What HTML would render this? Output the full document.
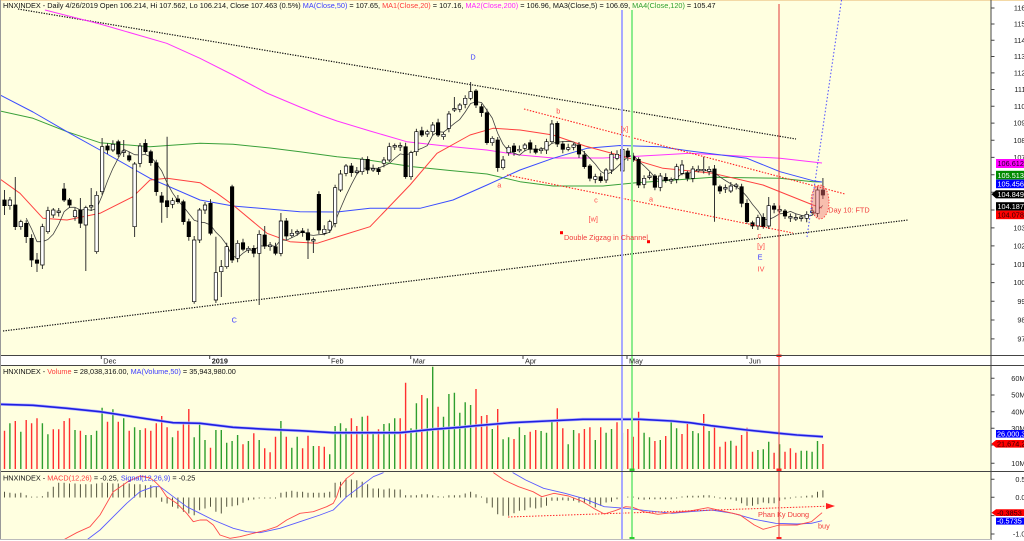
<!DOCTYPE html>
<html><head><meta charset="utf-8">
<style>
html,body{margin:0;padding:0;background:#fff;width:1024px;height:541px;overflow:hidden}
svg{display:block}
text{font-family:"Liberation Sans",Arial,sans-serif;font-size:7.3px}
</style></head><body>
<svg width="1024" height="541" viewBox="0 0 1024 541" xmlns="http://www.w3.org/2000/svg">
<defs>
<clipPath id="cm"><rect x="0" y="0" width="991" height="356"/></clipPath>
<clipPath id="cv"><rect x="0" y="366" width="991" height="106"/></clipPath>
<clipPath id="cd"><rect x="0" y="472.5" width="991" height="66.5"/></clipPath>
</defs>
<rect x="0" y="0" width="1024" height="541" fill="#fff"/>
<rect x="0" y="0" width="991" height="356" fill="#FFFFE0"/>
<rect x="0" y="366" width="991" height="106" fill="#FFFFE0"/>
<rect x="0" y="472" width="991" height="67" fill="#FFFFE0"/>
<rect x="0" y="0" width="1024" height="1" fill="#f3d9a6"/>

<g clip-path="url(#cm)">
<line x1="18" y1="9" x2="796" y2="139" stroke="#111" stroke-width="1.2" stroke-dasharray="1.3,1.3"/>
<line x1="3" y1="331" x2="908" y2="220" stroke="#111" stroke-width="1.2" stroke-dasharray="1.3,1.3"/>
<g fill="none" stroke-width="1" stroke-linejoin="round">
<polyline stroke="#ff33ff" points="45,10 100,24 166.7,43.3 200,58.3 233,75 266.7,93 300,107 320,115 337,121 370,131 406.7,141.7 450,146.5 486.7,150 520,155 553.3,158 603.3,158 660,155 690,153.3 730,155.5 780,158.3 822,163"/>
<polyline stroke="#3aa03a" points="0,111 33,118.3 67,131.7 100,142.7 150,146.7 200,143.3 233,144.3 270,148 300,151.7 337,156.7 363,159.3 413,166.7 450,170.5 487,174 520,181.7 553,186 603,186 637,182.7 675,180 713,177.3 780,178.3 813,181.7 822,182"/>
<polyline stroke="#3a4cff" points="0,95 33,112 67,131.7 100,150 150,178.3 200,200 233,206 300,211.7 337,212 370,208.3 420,208.3 453,200 487,185 520,170 553,158.3 587,148.3 620,145.5 660,146.7 690,151 747,158.3 780,171.7 813,180.7 822,182"/>
<polyline stroke="#ff4040" points="0,179 20,193.3 43,218.3 67,220 100,213.3 133,196.7 150,180 167,178.3 200,182.7 217,193.3 233,205 267,233.3 290,241.7 317,243.3 340,236 370,226.7 410,185 437,153.3 470,135 493,128.3 520,130 553,135 585,146 620,155.5 663,168.3 713,173.3 763,185 813,205 822,208"/>
<polyline stroke="#404040" stroke-width="0.8" points="26.2,218.2 31.6,229 37,241.7 42.4,241.7 47.9,239.5 53.3,234.1 58.7,224.3 64.1,211.7 69.5,207.3 75,207.3 80.4,210 85.8,209.3 91.2,210.4 96.6,208.5 102.1,195.7 107.5,181 112.9,168.4 118.3,158.1 123.7,149.2 129.2,151.9 134.6,154.7 140,155 145.4,154.5 150.8,156.9 156.3,163.2 161.7,170.9 167.1,183 172.5,192.8 177.9,200.6 183.4,206.6 188.8,213.5 194.2,220.2 199.6,222 205,222.7 210.5,225 215.9,232.2 221.3,237.5 226.7,244.9 232.1,255.9 237.6,257.9 243,253.2 248.4,249.5 253.8,250.8 259.2,245.7 264.7,246.2 270.1,245.4 275.5,246.4 280.9,239.9 286.3,240.3 291.8,237.7 297.2,235 302.6,230.9 308,234.7 313.4,235.4 318.9,234.7 324.3,234.3 329.7,232.1 335.1,221.6 340.5,208.5 346,195.7 351.4,184.4 356.8,174.3 362.2,168.6 367.6,167.8 373.1,168.3 378.5,168.1 383.9,165.9 389.3,163.4 394.7,158.5 400.2,153.9 405.6,154.9 411,153.4 416.4,150.4 421.8,148.3 427.3,145.6 432.7,135.2 438.1,131.7 443.5,132.2 448.9,128 454.4,123.4 459.8,119.4 465.2,112 470.6,103.5 476,101.7 481.5,102.5 486.9,110.1 492.3,118.1 497.7,133.3 503.1,144.3 508.6,151.2 514,153 519.4,155.2 524.8,150.7 530.2,148.6 535.7,149.6 541.1,149 546.5,147.5 551.9,143.3 557.3,142.2 562.8,141.6 568.2,141.3 573.6,142 579,148 584.4,152.5 589.9,158.3 595.3,164.1 600.7,171.3 606.1,174.5 611.5,172 617,167.2 622.4,161.7 627.8,156.9 633.2,154.9 638.6,161.1 644.1,165.9 649.5,171.2 654.9,177.3 660.3,180.5 665.7,179.7 671.2,179.9 676.6,178 682,173.6 687.4,174 692.8,171.7 698.3,169.7 703.7,170.3 709.1,171.1 714.5,172.5 719.9,176.9 725.4,180.5 730.8,183.8 736.2,186.9 741.6,190.6 747,196.7 752.5,204.4 757.9,210.7 763.3,219.1 768.7,219.6 774.1,217.1 779.6,213.8 785,213.4 790.4,211.4 795.8,213.8 801.2,215.3 806.7,216.3 812.1,215.3 817.5,210 822.9,205.5"/>
</g>
<path stroke="#333" stroke-width="1" fill="none" d="M4.5 190V215M9.9 197V209.7M15.3 177V230M20.8 219.7V229.7M26.2 220.3V243M31.6 234.3V267M37 253V272M42.4 223.7V269M47.9 206.7V233.7M53.3 208V218M58.7 208V216.5M64.1 183V202M69.5 198V208M75 207.7V220.7M80.4 198V228M85.8 205.7V271M91.2 188V211M96.6 191.3V253.7M102.1 138V194.7M107.5 143V154M112.9 140.3V152M118.3 139.7V157M123.7 140V157M129.2 151.7V162M134.6 162V237M140 143V167.3M145.4 139.3V153.7M150.8 149.7V165.7M156.3 159.7V195.7M161.7 192V222.7M167.1 136.7V218M172.5 197.7V208.3M177.9 195V203.7M183.4 199.7V224.7M188.8 218.7V240.7M194.2 236V303.7M199.6 208V243M205 202V214M210.5 199.3V235.3M215.9 236.7V303M221.3 260V297M226.7 242.7V268.7M232.1 184.7V263M237.6 240.3V262.3M243 238.7V251.3M248.4 246.3V253M253.8 245.3V257.3M259.2 230.3V305M264.7 226V249M270.1 242V250.7M275.5 242.7V255.3M280.9 213V256.3M286.3 218V240M291.8 229.3V237.7M297.2 229.5V235.7M302.6 228V236.7M308 228.7V259M313.4 237.5V253M318.9 191.3V234M324.3 225.3V235.3M329.7 219.7V233M335.1 184.7V227.3M340.5 170V192M346 164V176.3M351.4 163V176.7M356.8 167V174.5M362.2 157.3V174.7M367.6 156.3V174M373.1 164.5V172M378.5 167V174.7M383.9 157V167.3M389.3 142.7V162M394.7 143.5V150M400.2 142.5V151M405.6 142.7V178.7M411 150.7V179.7M416.4 128.7V155.7M421.8 126.7V137M427.3 129.7V137M432.7 122V135.7M438.1 118.7V137M443.5 132.3V139.7M448.9 111V132.3M454.4 97V112M459.8 103V112.3M465.2 95.3V108.3M470.6 82V100.3M476 89V108M481.5 103.7V116.7M486.9 108.7V144.7M492.3 136.3V145.7M497.7 137V171.7M503.1 156V169.7M508.6 145.3V155.7M514 143V155.7M519.4 145.5V152.5M524.8 143V151.3M530.2 139.7V153.3M535.7 145V154.3M541.1 147V153.7M546.5 138.7V154M551.9 120V143.7M557.3 121.3V147M562.8 141V153.3M568.2 143.7V151.3M573.6 143V150.3M579 142V158M584.4 151V168.7M589.9 164V181.3M595.3 173.7V183.3M600.7 172.7V182.7M606.1 168V183M611.5 151.3V174M617 150.3V160.3M622.4 136.7V174M627.8 148V160.7M633.2 152.7V162M638.6 157.3V188M644.1 175.3V188.3M649.5 172V179.5M654.9 174V190.3M660.3 173V191.3M665.7 173.3V182.7M671.2 177.5V184M676.6 163.7V183.3M682 160V175.3M687.4 170.7V181.3M692.8 166V182.3M698.3 165.5V172.5M703.7 156.7V173.5M709.1 166.3V175.3M714.5 165V221.7M719.9 184.7V194M725.4 184.5V193M730.8 182V193M736.2 183V189.5M741.6 183.7V207.3M747 199.3V223.7M752.5 220.7V229M757.9 214.7V230M763.3 213.3V228.7M768.7 197V229M774.1 203V213.3M779.6 205.5V213M785 209V219M790.4 213.5V222M795.8 213.5V221M801.2 215V221.5M806.7 211.3V222.3M812.1 207V214.5M817.5 187V217M822.9 178V199"/>
<path fill="#000" stroke="#000" stroke-width="0.7" d="M2.8 200h3.4V205.7h-3.4zM13.6 205h3.4V226.7h-3.4zM24.5 223.3h3.4V236.7h-3.4zM29.9 238.3h3.4V260h-3.4zM35.3 260h3.4V263.3h-3.4zM62.4 189h3.4V200h-3.4zM67.8 200h3.4V205h-3.4zM78.7 210h3.4V223.3h-3.4zM105.8 146h3.4V150h-3.4zM116.6 141.7h3.4V154h-3.4zM127.5 155.7h3.4V160h-3.4zM143.7 143.3h3.4V151.7h-3.4zM149.1 151.7h3.4V162.7h-3.4zM154.6 162.7h3.4V191.7h-3.4zM160 196h3.4V202.3h-3.4zM165.4 200.7h3.4V206.7h-3.4zM176.2 199h3.4V201.7h-3.4zM181.7 201.7h3.4V221.7h-3.4zM187.1 221.7h3.4V236.7h-3.4zM208.8 203.3h3.4V233.3h-3.4zM230.4 186.7h3.4V260h-3.4zM241.3 242.7h3.4V249.3h-3.4zM252.1 248.3h3.4V253.3h-3.4zM263 235h3.4V246h-3.4zM273.8 246.7h3.4V253.3h-3.4zM284.6 221h3.4V236h-3.4zM300.9 231h3.4V232.7h-3.4zM306.3 232.7h3.4V240h-3.4zM317.2 194.3h3.4V230h-3.4zM349.7 166h3.4V172.7h-3.4zM365.9 159.3h3.4V170h-3.4zM376.8 169h3.4V171.7h-3.4zM403.9 146.7h3.4V176.7h-3.4zM420.1 130.7h3.4V135h-3.4zM436.4 122.7h3.4V135h-3.4zM474.3 91h3.4V105h-3.4zM479.8 106.7h3.4V112.7h-3.4zM485.2 112.7h3.4V142.7h-3.4zM496 140h3.4V167.7h-3.4zM512.3 146h3.4V151.7h-3.4zM528.5 142.7h3.4V149.3h-3.4zM534 149h3.4V152.3h-3.4zM555.6 123.3h3.4V144h-3.4zM561.1 144h3.4V149.3h-3.4zM577.3 145h3.4V154h-3.4zM582.7 155h3.4V166.7h-3.4zM588.2 166h3.4V178.3h-3.4zM599 176.7h3.4V180.7h-3.4zM626.1 151h3.4V156.7h-3.4zM631.5 156.7h3.4V160h-3.4zM636.9 159.3h3.4V185h-3.4zM653.2 176h3.4V187.3h-3.4zM664 177.3h3.4V180.7h-3.4zM685.7 172.7h3.4V178.3h-3.4zM712.8 169h3.4V185h-3.4zM718.2 186.7h3.4V191h-3.4zM739.9 186.7h3.4V203.3h-3.4zM745.3 203.3h3.4V221.7h-3.4zM750.8 222.7h3.4V226h-3.4zM761.6 217.3h3.4V226.7h-3.4zM772.4 206h3.4V209.3h-3.4zM783.3 211h3.4V216h-3.4zM821.2 190h3.4V195h-3.4z"/>
<path fill="#fff" stroke="#000" stroke-width="0.7" d="M8.2 200h3.4V205.7h-3.4zM19.1 221.7h3.4V226.7h-3.4zM40.7 226.7h3.4V265h-3.4zM46.2 210.7h3.4V231.7h-3.4zM51.6 210h3.4V215h-3.4zM57 211h3.4V212.5h-3.4zM73.3 210.7h3.4V216.7h-3.4zM84.1 207.7h3.4V225h-3.4zM89.5 205.5h3.4V207h-3.4zM94.9 195.3h3.4V251.7h-3.4zM100.4 146.7h3.4V191.7h-3.4zM111.2 144.3h3.4V150h-3.4zM122 151h3.4V152.5h-3.4zM132.9 164h3.4V226.7h-3.4zM138.3 146h3.4V163.3h-3.4zM170.8 200.7h3.4V204.3h-3.4zM192.5 240h3.4V301.7h-3.4zM197.9 210h3.4V240h-3.4zM203.3 205h3.4V210h-3.4zM214.2 272.7h3.4V300h-3.4zM219.6 266.7h3.4V271.7h-3.4zM225 246.7h3.4V266.7h-3.4zM235.9 243.3h3.4V258.3h-3.4zM246.7 248.3h3.4V250h-3.4zM257.5 234.3h3.4V253.3h-3.4zM268.4 245h3.4V246.7h-3.4zM279.2 221h3.4V253.3h-3.4zM290.1 233.3h3.4V235.7h-3.4zM295.5 231.5h3.4V233h-3.4zM311.7 239.5h3.4V241h-3.4zM322.6 229.3h3.4V233.3h-3.4zM328 221.7h3.4V230h-3.4zM333.4 187.7h3.4V223.3h-3.4zM338.8 174h3.4V190h-3.4zM344.3 166h3.4V173.3h-3.4zM355.1 171h3.4V172.5h-3.4zM360.5 159.3h3.4V171.7h-3.4zM371.4 168.5h3.4V170h-3.4zM382.2 160h3.4V163.3h-3.4zM387.6 146.7h3.4V160h-3.4zM393 145.5h3.4V147h-3.4zM398.5 145.5h3.4V147h-3.4zM409.3 152.7h3.4V176.7h-3.4zM414.7 131.7h3.4V151.7h-3.4zM425.6 131.7h3.4V134h-3.4zM431 125h3.4V131.7h-3.4zM441.8 134.3h3.4V136.7h-3.4zM447.2 114h3.4V128.3h-3.4zM452.7 108.5h3.4V110h-3.4zM458.1 105h3.4V109.3h-3.4zM463.5 98.3h3.4V104.3h-3.4zM468.9 91.7h3.4V98.3h-3.4zM490.6 138.3h3.4V142.7h-3.4zM501.4 160h3.4V167.7h-3.4zM506.9 147.3h3.4V152.7h-3.4zM517.7 149.3h3.4V150.8h-3.4zM523.1 145h3.4V148.3h-3.4zM539.4 149h3.4V150.7h-3.4zM544.8 141.7h3.4V150h-3.4zM550.2 124h3.4V141.7h-3.4zM566.5 147.7h3.4V149.3h-3.4zM571.9 145h3.4V147.3h-3.4zM593.6 176.7h3.4V179.3h-3.4zM604.4 170h3.4V180h-3.4zM609.8 154.3h3.4V170h-3.4zM615.3 154.3h3.4V158.3h-3.4zM620.7 149.3h3.4V171h-3.4zM642.4 178.3h3.4V184.3h-3.4zM647.8 176h3.4V177.5h-3.4zM658.6 176h3.4V187.3h-3.4zM669.5 179.5h3.4V181h-3.4zM674.9 166.7h3.4V179.3h-3.4zM680.3 165h3.4V173.3h-3.4zM691.1 169h3.4V178.3h-3.4zM696.6 169.3h3.4V170.8h-3.4zM702 169.3h3.4V170.8h-3.4zM707.4 169.3h3.4V171.3h-3.4zM723.7 187.5h3.4V189h-3.4zM729.1 186h3.4V191h-3.4zM734.5 185h3.4V186.5h-3.4zM756.2 217.7h3.4V226h-3.4zM767 205.7h3.4V226h-3.4zM777.9 209.5h3.4V211h-3.4zM788.7 216.5h3.4V218h-3.4zM794.1 217.5h3.4V219h-3.4zM799.5 217h3.4V218.5h-3.4zM805 214.3h3.4V218.3h-3.4zM810.4 211h3.4V212.5h-3.4zM815.8 190h3.4V213.3h-3.4z"/>
<line x1="524" y1="109" x2="845" y2="194" stroke="#ff2020" stroke-width="1.1" stroke-dasharray="1.5,1.5"/>
<line x1="507" y1="175" x2="793" y2="233" stroke="#ff2020" stroke-width="1.1" stroke-dasharray="1.5,1.5"/>
<line x1="807" y1="237" x2="841.5" y2="0" stroke="#4a4aff" stroke-width="1" stroke-dasharray="1.5,2"/>
<ellipse cx="820" cy="202" rx="9" ry="17" fill="rgba(240,110,110,0.45)" stroke="#ff3030" stroke-width="0.8" stroke-dasharray="1.5,1.5"/>
</g>

<g clip-path="url(#cv)" stroke-width="1.4" fill="none">
<path stroke="#ff3030" d="M4.5 469V430.7M15.3 469V421M26.2 469V420M31.6 469V423.3M37 469V418.3M53.3 469V429.3M58.7 469V429.3M64.1 469V421M69.5 469V418.3M80.4 469V430.7M107.5 469V421.7M118.3 469V421.7M129.2 469V430.7M145.4 469V428.3M150.8 469V430.7M156.3 469V423.3M161.7 469V416M167.1 469V427.3M177.9 469V430.7M183.4 469V421.7M188.8 469V409M210.5 469V447.7M243 469V444.3M253.8 469V433.3M264.7 469V448.3M270.1 469V452.3M275.5 469V436.7M286.3 469V436.7M302.6 469V448.3M308 469V435.7M318.9 469V446M324.3 469V446.7M351.4 469V418.3M356.8 469V426M367.6 469V415.7M378.5 469V429.3M400.2 469V418.3M405.6 469V382.7M421.8 469V395M438.1 469V406.7M476 469V389M481.5 469V416M486.9 469V415M497.7 469V409M514 469V439M530.2 469V431.7M535.7 469V430M557.3 469V408.3M562.8 469V428.3M579 469V433.3M584.4 469V429M589.9 469V427.3M600.7 469V427.3M617 469V422.3M627.8 469V429M633.2 469V436.7M638.6 469V411.7M654.9 469V441M665.7 469V436M682 469V434M687.4 469V424M703.7 469V414M714.5 469V426M719.9 469V446.7M725.4 469V441.7M736.2 469V445.7M741.6 469V435M747 469V427.7M752.5 469V451.7M774.1 469V452.7M785 469V451.7M790.4 469V448.3M795.8 469V452.7M822.9 469V444"/>
<path stroke="#2e9e2e" d="M9.9 469V423.3M20.8 469V431.7M42.4 469V423.3M47.9 469V434.3M75 469V430M85.8 469V435M91.2 469V435M96.6 469V430.7M102.1 469V407.7M112.9 469V409.3M123.7 469V418.3M134.6 469V427.3M140 469V430M172.5 469V437.3M194.2 469V437.3M199.6 469V424.3M205 469V440M215.9 469V430M221.3 469V430M226.7 469V442.7M232.1 469V441M237.6 469V435M248.4 469V441M259.2 469V440M280.9 469V421M291.8 469V447.7M297.2 469V436.7M313.4 469V446M329.7 469V454.3M335.1 469V426M340.5 469V423.3M346 469V428.3M362.2 469V416.7M373.1 469V431.7M383.9 469V424M389.3 469V423.3M394.7 469V418.3M411 469V428.3M416.4 469V403.3M427.3 469V398.3M432.7 469V366.7M443.5 469V416.7M448.9 469V394M454.4 469V392.7M459.8 469V412.7M465.2 469V402.3M470.6 469V405M492.3 469V429M503.1 469V439.3M508.6 469V437.3M519.4 469V427.3M524.8 469V435M541.1 469V431M546.5 469V432.7M551.9 469V420M568.2 469V444.3M573.6 469V430M595.3 469V440M606.1 469V432.7M611.5 469V429M622.4 469V432.7M644.1 469V432.7M649.5 469V437.3M660.3 469V440M671.2 469V421.7M676.6 469V428.3M692.8 469V431M698.3 469V433.3M709.1 469V431M730.8 469V440.7M757.9 469V450M763.3 469V449.3M768.7 469V441.7M779.6 469V444.3M801.2 469V450.7M806.7 469V450.7M812.1 469V451.7M817.5 469V441"/>
<polyline stroke="#b8b8ff" stroke-width="3" stroke-linejoin="round" points="0,404.3 33,405.3 67,408.3 100,411.7 150,419.3 173,422.7 200,423.3 233,427.3 267,429.3 300,430.7 333,432.7 400,432.7 433,429.3 460,427.3 476,425.7 511,422.7 547,421 583,419.3 640,419.3 672,421 690,422.7 711,425.7 747,430 779,433.3 797,435 823,436.7"/>
<polyline stroke="#1f1fe0" stroke-width="1.6" stroke-linejoin="round" points="0,404.3 33,405.3 67,408.3 100,411.7 150,419.3 173,422.7 200,423.3 233,427.3 267,429.3 300,430.7 333,432.7 400,432.7 433,429.3 460,427.3 476,425.7 511,422.7 547,421 583,419.3 640,419.3 672,421 690,422.7 711,425.7 747,430 779,433.3 797,435 823,436.7"/>
</g>

<g clip-path="url(#cd)" fill="none">
<path stroke="#55553f" stroke-width="1" d="M4.5 497.5v-5.7M9.9 497.5v-4.7M15.3 497.5v-4M20.8 497.5v-4.7M26.2 497.5v-2.3M31.6 497.5v-0.9M37 497.5v-0.9M42.4 497.5v-1.3M47.9 497.5v-5.7M53.3 497.5v-10.7M58.7 497.5v-14.7M64.1 497.5v-14.7M69.5 497.5v-14M75 497.5v-14M80.4 497.5v-13.3M85.8 497.5v-13.3M91.2 497.5v-13.3M96.6 497.5v-14M102.1 497.5v-14.7M107.5 497.5v-14.7M112.9 497.5v-14M118.3 497.5v-14M123.7 497.5v-14M129.2 497.5v-14M134.6 497.5v-13.3M140 497.5v-13.3M145.4 497.5v-12.3M150.8 497.5v-12.3M156.3 497.5v-10.7M161.7 497.5v4.3M167.1 497.5v6M172.5 497.5v9.3M177.9 497.5v11M183.4 497.5v14.3M188.8 497.5v16M194.2 497.5v17.7M199.6 497.5v12.7M205 497.5v11M210.5 497.5v9.3M215.9 497.5v14.3M221.3 497.5v16M226.7 497.5v9.3M232.1 497.5v8.7M237.6 497.5v7.7M243 497.5v5.3M248.4 497.5v2.7M253.8 497.5v2M259.2 497.5v1M264.7 497.5v1M270.1 497.5v1M275.5 497.5v1M280.9 497.5v-4.7M286.3 497.5v-5.7M291.8 497.5v-6.7M297.2 497.5v-5.7M302.6 497.5v-5.7M308 497.5v-4.7M313.4 497.5v-4.7M318.9 497.5v-4.7M324.3 497.5v-4.7M329.7 497.5v-5.7M335.1 497.5v-14.7M340.5 497.5v-15.7M346 497.5v-19M351.4 497.5v-18M356.8 497.5v-17.3M362.2 497.5v-15.7M367.6 497.5v-13.3M373.1 497.5v-9M378.5 497.5v-9M383.9 497.5v-8M389.3 497.5v-9M394.7 497.5v-8M400.2 497.5v-8M405.6 497.5v-2.3M411 497.5v-2.3M416.4 497.5v-2.3M421.8 497.5v-3.3M427.3 497.5v-3.3M432.7 497.5v-2.3M438.1 497.5v-1.3M443.5 497.5v-0.9M448.9 497.5v-2.3M454.4 497.5v-2.3M459.8 497.5v-2.3M465.2 497.5v-4M470.6 497.5v-5.7M476 497.5v-3.3M481.5 497.5v-1M486.9 497.5v5.7M492.3 497.5v10M497.7 497.5v16.7M503.1 497.5v18.3M508.6 497.5v18.3M514 497.5v15.7M519.4 497.5v13.3M524.8 497.5v12.7M530.2 497.5v10M535.7 497.5v11M541.1 497.5v10M546.5 497.5v8.3M551.9 497.5v3.3M557.3 497.5v3.3M562.8 497.5v2.7M568.2 497.5v3.3M573.6 497.5v3.3M579 497.5v5M584.4 497.5v5.7M589.9 497.5v6.7M595.3 497.5v10M600.7 497.5v8.3M606.1 497.5v5M611.5 497.5v4.3M617 497.5v1.7M622.4 497.5v0.9M627.8 497.5v-0.9M633.2 497.5v-0.9M638.6 497.5v1.7M644.1 497.5v2.3M649.5 497.5v1.7M654.9 497.5v1.7M660.3 497.5v1.7M665.7 497.5v1.7M671.2 497.5v1.7M676.6 497.5v1M682 497.5v-1M687.4 497.5v-1.7M692.8 497.5v-1.7M698.3 497.5v-1.7M703.7 497.5v-2.3M709.1 497.5v-2.3M714.5 497.5v-1M719.9 497.5v1M725.4 497.5v1.7M730.8 497.5v1.7M736.2 497.5v3.3M741.6 497.5v5.7M747 497.5v8.3M752.5 497.5v8.3M757.9 497.5v6.7M763.3 497.5v5M768.7 497.5v5.7M774.1 497.5v5.7M779.6 497.5v3.3M785 497.5v1.7M790.4 497.5v1M795.8 497.5v-0.9M801.2 497.5v-1M806.7 497.5v-1.7M812.1 497.5v-2.3M817.5 497.5v-5.7M822.9 497.5v-7.3"/>
<g stroke-width="0.9" stroke-linejoin="round">
<polyline stroke="#5a5aff" points="84,545 86.7,540 100,530 113.3,516.7 126.7,503.3 140,491.7 153.3,486.7 160,486.7 173.3,496.7 186.7,506.7 200,513.3 213.3,520 233.3,528.3 246.7,531.7 260,532.7 280,528.3 300,521.7 320,515 333.3,510 346.7,496.7 360,486.7 373.3,476.7 383.3,472.7 392,466"/>
<polyline stroke="#5a5aff" points="506,466 513,472.7 525.7,480 543.6,488.3 565,493.3 582.9,498.3 604.3,506.7 625.7,508.3 647,510.7 672,513.3 690,511.7 711.4,510 733,513.3 754.3,519.3 775.7,523.3 797,524 811.4,523.3 822.1,520.7"/>
<polyline stroke="#ff4a4a" points="60,545 63.3,540 76.7,532.7 90,526.7 100,515 113.3,491.7 127.7,481.7 140,476 150,478 155,481.7 160,486.7 166.7,496.7 176.7,503.3 186.7,513.3 193.3,521.7 200,520 206.7,520 213.3,525 220,535 230,538.3 240,536.7 253.3,533.3 266.7,530 276.7,526.7 286.7,520 300,513.3 313.3,511.7 326.7,506.7 333.3,503.3 336.7,496.7 340,486.7 346.7,478.3 353.3,473.3 360,466"/>
<polyline stroke="#ff4a4a" points="488,465 493.6,472.7 504,480 518.6,486.7 533,491.7 541.8,496.7 554,493.3 568.6,496 582.9,501.7 593.6,508.3 604.3,514 615,510.7 625.7,506.7 632.9,507.3 643.6,511.7 657.9,514.3 672,512.7 690,511 707.9,507.7 725.7,511.7 740,515 754.3,525 763.2,529.3 779.3,525 797,525 811.4,521.7 822.1,512.7"/>
</g>
<line x1="508" y1="517" x2="827" y2="506.2" stroke="#ff2a2a" stroke-width="1" stroke-dasharray="1.5,1.5"/>
<polygon points="826,503 835,506 826,509.2" fill="#ff2020"/>
</g>

<!-- vertical cursor lines -->
<line x1="622" y1="10" x2="622" y2="541" stroke="#a8a8ff" stroke-width="2"/>
<line x1="632" y1="10" x2="632" y2="541" stroke="#8cec8c" stroke-width="2"/>
<line x1="779" y1="4" x2="779" y2="541" stroke="#e23a3a" stroke-width="1"/>
<rect x="629.5" y="468.5" width="5" height="2.5" fill="#2ecc2e"/>
<rect x="629.5" y="537" width="5" height="2.5" fill="#2ecc2e"/>
<rect x="776.5" y="354.5" width="5" height="2.5" fill="#ff2020"/>
<rect x="776.5" y="468.5" width="5" height="2.5" fill="#ff2020"/>
<rect x="776.5" y="537" width="5" height="2.5" fill="#ff2020"/>

<!-- panel frame -->
<g stroke="#444" stroke-width="1" fill="none">
<line x1="0" y1="355.5" x2="1024" y2="355.5"/>
<line x1="0" y1="365.5" x2="1024" y2="365.5"/>
<line x1="0" y1="471.5" x2="1024" y2="471.5"/>
<line x1="991" y1="0" x2="991" y2="541"/>
<line x1="0.5" y1="0" x2="0.5" y2="541" stroke="#999"/>
</g>
<line x1="0" y1="539.5" x2="991" y2="539.5" stroke="#bbb"/>
<rect x="0" y="540" width="1024" height="1" fill="#fff"/>

<!-- titles -->
<text x="3" y="8" fill="#111">HNXINDEX - Daily 4/26/2019 Open 106.214, Hi 107.562, Lo 106.214, Close 107.463 (0.5%) <tspan fill="#3b3bff">MA(Close,50)</tspan> = 107.65, <tspan fill="#ff3b3b">MA1(Close,20)</tspan> = 107.16, <tspan fill="#ff22ff">MA2(Close,200)</tspan> = 106.96, MA3(Close,5) = 106.69, <tspan fill="#2ea02e">MA4(Close,120)</tspan> = 105.47</text>
<text x="3" y="374" fill="#111">HNXINDEX - <tspan fill="#ff3b3b">Volume</tspan> = 28,038,316.00, <tspan fill="#3b3bff">MA(Volume,50)</tspan> = 35,943,980.00</text>
<text x="3" y="480.5" fill="#111">HNXINDEX - <tspan fill="#ff3b3b">MACD(12,26)</tspan> = -0.25, <tspan fill="#3b3bff">Signal(12,26,9)</tspan> = -0.25</text>

<!-- date axis -->
<g fill="#222">
<text x="103.3" y="363.5">Dec</text>
<text x="211.7" y="363.5" font-weight="bold">2019</text>
<text x="331" y="363.5">Feb</text>
<text x="412.7" y="363.5">Mar</text>
<text x="525" y="363.5">Apr</text>
<text x="629" y="363.5">May</text>
<text x="749" y="363.5">Jun</text>
</g>
<path stroke="#444" stroke-width="1" d="M101.3 356V359M209.7 356V359M329 356V359M410.7 356V359M523 356V359M627 356V359M747 356V359"/>

<!-- annotations -->
<g text-anchor="middle">
<text x="473" y="59.6" fill="#3b3bff">D</text>
<text x="234.3" y="322.6" fill="#3b3bff">C</text>
<text x="499.3" y="187.6" fill="#ff4c4c">a</text>
<text x="558.3" y="113.6" fill="#ff4c4c">b</text>
<text x="596" y="202.3" fill="#ff4c4c">c</text>
<text x="624.3" y="131.6" fill="#ff4c4c">[x]</text>
<text x="593.3" y="221.6" fill="#ff4c4c">[w]</text>
<text x="651" y="201.6" fill="#ff4c4c">a</text>
<text x="759.3" y="238" fill="#ff4c4c">c</text>
<text x="761" y="248.6" fill="#ff4c4c">[y]</text>
<text x="760" y="259.3" fill="#3b3bff">E</text>
<text x="761" y="271.6" fill="#ff4c4c">IV</text>
</g>
<text x="564" y="240" fill="#f03c3c">Double Zigzag in Channel</text>
<rect x="560" y="231.2" width="3" height="3" fill="#f00"/>
<rect x="647" y="240.2" width="3" height="3" fill="#f00"/>
<text x="828.3" y="212.7" fill="#f03c3c">Day 10: FTD</text>
<text x="758" y="517" fill="#f03c3c">Phan Ky Duong</text>
<text x="818" y="528.3" fill="#f03c3c">buy</text>

<!-- main axis -->
<path stroke="#444" stroke-width="1" d="M991 8h3.5M991 24h3.5M991 40.2h3.5M991 56.5h3.5M991 72.9h3.5M991 89.5h3.5M991 106.3h3.5M991 123.1h3.5M991 140.2h3.5M991 157.4h3.5M991 174.8h3.5M991 192.3h3.5M991 210h3.5M991 227.9h3.5M991 245.9h3.5M991 264.2h3.5M991 282.6h3.5M991 301.2h3.5M991 320h3.5M991 338.9h3.5"/>
<g fill="#222" text-anchor="end">
<text x="1025.5" y="10.6">116</text>
<text x="1025.5" y="26.6">115</text>
<text x="1025.5" y="42.8">114</text>
<text x="1025.5" y="59.1">113</text>
<text x="1025.5" y="75.5">112</text>
<text x="1025.5" y="92.1">111</text>
<text x="1025.5" y="108.9">110</text>
<text x="1025.5" y="125.7">109</text>
<text x="1025.5" y="142.8">108</text>
<text x="1025.5" y="160">107</text>
<text x="1025.5" y="230.5">103</text>
<text x="1025.5" y="248.5">102</text>
<text x="1025.5" y="266.8">101</text>
<text x="1025.5" y="285.2">100</text>
<text x="1025.5" y="303.8">99</text>
<text x="1025.5" y="322.6">98</text>
<text x="1025.5" y="341.5">97</text>
</g>
<rect x="996" y="159" width="30" height="9" fill="#ff00ff"/>
<text x="997.5" y="166.2" fill="#200020">106.612</text>
<rect x="996" y="170.8" width="30" height="8.6" fill="#008a00"/>
<text x="997.5" y="177.8" fill="#fff">105.513</text>
<rect x="996" y="179.6" width="30" height="8.6" fill="#0000ff"/>
<text x="997.5" y="186.6" fill="#fff">105.456</text>
<polygon points="991.5,194.3 996,190.2 1026,190.2 1026,198.4 996,198.4" fill="#000"/>
<text x="997.5" y="197.1" fill="#fff">104.849</text>
<rect x="996" y="202.2" width="30" height="8.4" fill="#000"/>
<text x="997.5" y="209" fill="#fff">104.187</text>
<rect x="996" y="210.6" width="30" height="8.6" fill="#ff0000"/>
<text x="997.5" y="217.5" fill="#300">104.078</text>

<!-- volume axis -->
<g fill="#222" text-anchor="end">
<text x="1025.5" y="380.9">60M</text>
<text x="1025.5" y="397.6">50M</text>
<text x="1025.5" y="414.3">40M</text>
<text x="1025.5" y="430.9">30M</text>
<text x="1025.5" y="465.9">10M</text>
</g>
<path stroke="#444" d="M991 378.3h3.5M991 395h3.5M991 411.7h3.5M991 428.3h3.5M991 445h3.5M991 463.3h3.5"/>
<rect x="996" y="430" width="30" height="7.6" fill="#0000ff"/>
<text x="997" y="436.5" fill="#fff">26,000,3</text>
<polygon points="991.5,443.8 996,440 1026,440 1026,447.6 996,447.6" fill="#ff0000"/>
<text x="997" y="446.4" fill="#300">21,674,2</text>

<!-- macd axis -->
<g fill="#222" text-anchor="end">
<text x="1025.5" y="481.9">0.5</text>
<text x="1025.5" y="499.9">0.0</text>
<text x="1025.5" y="536.6">-1.0</text>
</g>
<path stroke="#444" d="M991 479.3h3.5M991 497.3h3.5M991 515.6h3.5M991 534h3.5"/>
<polygon points="991.5,512.7 996,509.3 1026,509.3 1026,516 996,516" fill="#ff0000"/>
<text x="997" y="515.3" fill="#300">-0.3853</text>
<rect x="996" y="517.6" width="30" height="7" fill="#0000ff"/>
<text x="997" y="523.6" fill="#fff">-0.5735</text>
</svg>
</body></html>
